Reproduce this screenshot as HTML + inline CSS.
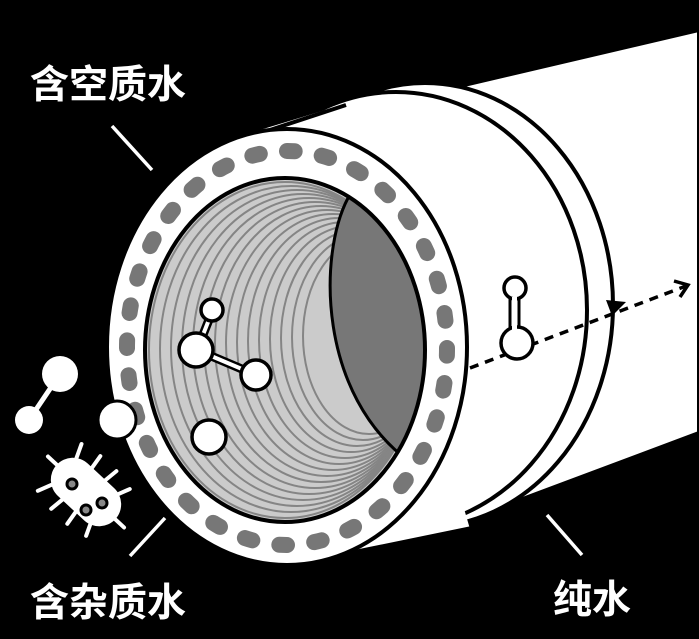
<!DOCTYPE html>
<html><head><meta charset="utf-8"><style>
html,body{margin:0;padding:0;background:#000;}
svg{display:block;}
text{font-family:"Liberation Sans","Noto Sans CJK SC",sans-serif;font-weight:bold;fill:#fff;}
</style></head><body>
<svg width="699" height="639" viewBox="0 0 699 639" xmlns="http://www.w3.org/2000/svg">
<defs>
<clipPath id="lum"><ellipse cx="285" cy="350" rx="140" ry="172"/></clipPath>
</defs>
<rect width="699" height="639" fill="#000"/>
<polygon points="400,100 699,30 699,433 520,500" fill="#fff" stroke="#000" stroke-width="4"/>
<ellipse cx="425" cy="305" rx="188" ry="222" fill="#fff" stroke="#000" stroke-width="4"/>
<ellipse cx="396" cy="310" rx="191" ry="218" fill="#fff" stroke="#000" stroke-width="4"/>
<polygon points="250,133 345,104 470,529 340,555" fill="#fff"/>
<line x1="270" y1="130" x2="346" y2="105" stroke="#000" stroke-width="4"/>
<line x1="340" y1="555" x2="472" y2="528" stroke="#000" stroke-width="4"/>
<ellipse cx="287" cy="347" rx="180" ry="218" fill="#fff" stroke="#000" stroke-width="4"/>
<ellipse cx="287" cy="348" rx="160" ry="197" fill="none" stroke="#777" stroke-width="16" stroke-linecap="round" pathLength="320" stroke-dasharray="2.2 7.8"/>
<ellipse cx="285" cy="350" rx="140" ry="172" fill="#cbcbcb"/>
<g clip-path="url(#lum)" fill="none" stroke="#858585" stroke-width="2">
<ellipse cx="285" cy="350" rx="136" ry="168"/>
<ellipse cx="291" cy="349" rx="131" ry="163"/>
<ellipse cx="297" cy="348" rx="126" ry="158"/>
<ellipse cx="303" cy="347" rx="121" ry="153"/>
<ellipse cx="309" cy="346" rx="116" ry="148"/>
<ellipse cx="315" cy="345" rx="111" ry="143"/>
<ellipse cx="321" cy="344" rx="106" ry="138"/>
<ellipse cx="327" cy="343" rx="101" ry="133"/>
<ellipse cx="333" cy="342" rx="96" ry="128"/>
<ellipse cx="339" cy="341" rx="91" ry="123"/>
<ellipse cx="345" cy="340" rx="86" ry="118"/>
<ellipse cx="351" cy="339" rx="81" ry="113"/>
<ellipse cx="357" cy="338" rx="76" ry="108"/>
<ellipse cx="363" cy="337" rx="71" ry="103"/>
<ellipse cx="369" cy="336" rx="66" ry="98"/>
</g>
<g clip-path="url(#lum)">
<path d="M348,198 C318,255 318,395 410,462 L470,470 L470,170 Z" fill="#777" stroke="#000" stroke-width="3"/>
</g>
<ellipse cx="285" cy="350" rx="140" ry="172" fill="none" stroke="#000" stroke-width="4"/>
<g stroke="#000" stroke-width="9"><line x1="212" y1="312" x2="197" y2="350"/><line x1="197" y1="350" x2="256" y2="375"/></g>
<g stroke="#fff" stroke-width="4"><line x1="212" y1="312" x2="197" y2="350"/><line x1="197" y1="350" x2="256" y2="375"/></g>
<g fill="#fff" stroke="#000" stroke-width="3.5">
<circle cx="212" cy="310" r="11"/><circle cx="196" cy="350" r="17"/><circle cx="256" cy="375" r="15"/><circle cx="209" cy="437" r="17"/>
</g>
<line x1="60" y1="374" x2="29" y2="420" stroke="#fff" stroke-width="5"/>
<circle cx="60" cy="374" r="18" fill="#fff"/><circle cx="29" cy="420" r="14" fill="#fff"/>
<circle cx="117" cy="420" r="19" fill="#fff" stroke="#000" stroke-width="3"/>
<g transform="translate(86,492) rotate(43)">
<g stroke="#fff" stroke-width="4" stroke-linecap="round">
<line x1="-30" y1="-18" x2="-36" y2="-32"/><line x1="-12" y1="-21" x2="-14" y2="-36"/><line x1="6" y1="-21" x2="8" y2="-36"/><line x1="24" y1="-18" x2="30" y2="-32"/>
<line x1="-30" y1="18" x2="-36" y2="32"/><line x1="-12" y1="21" x2="-14" y2="36"/><line x1="6" y1="21" x2="8" y2="36"/><line x1="24" y1="18" x2="30" y2="32"/>
<line x1="-38" y1="0" x2="-52" y2="0"/><line x1="38" y1="0" x2="52" y2="0"/>
</g>
<rect x="-40" y="-22" width="80" height="44" rx="22" fill="#fff"/>
</g>
<g fill="#888" stroke="#000" stroke-width="3"><circle cx="72" cy="484" r="5"/><circle cx="86" cy="510" r="5"/><circle cx="102" cy="503" r="5"/></g>
<line x1="470" y1="368" x2="686" y2="286" stroke="#000" stroke-width="3.5" stroke-dasharray="9 7"/>
<polygon points="626,302 606,300 612,316" fill="#000"/>
<polyline points="674,281 688,285 680,297" fill="none" stroke="#000" stroke-width="3.5"/>
<rect x="510" y="296" width="9" height="34" fill="#fff" stroke="#000" stroke-width="3"/>
<circle cx="515" cy="288" r="11" fill="#fff" stroke="#000" stroke-width="3.5"/>
<circle cx="517" cy="343" r="16" fill="#fff" stroke="#000" stroke-width="3.5"/>
<rect x="512" y="297" width="5" height="33" fill="#fff"/>
<g stroke="#fff" stroke-width="3.5">
<line x1="112" y1="126" x2="152" y2="170"/>
<line x1="165" y1="518" x2="130" y2="556"/>
<line x1="547" y1="515" x2="582" y2="555"/>
</g>
<text x="30" y="98" font-size="39">含空质水</text>
<text x="30" y="616" font-size="39">含杂质水</text>
<text x="553" y="613" font-size="39">纯水</text>
</svg>
</body></html>
